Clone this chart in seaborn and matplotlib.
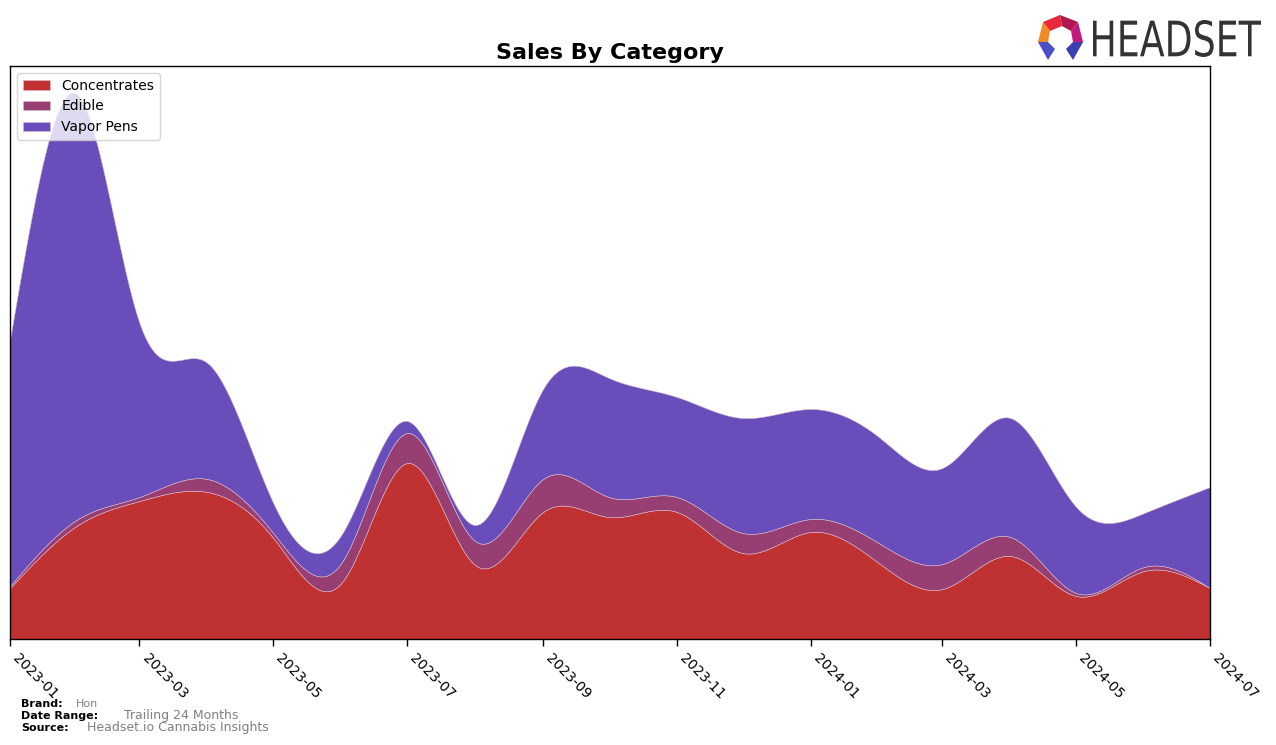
import numpy as np
import pandas as pd
import matplotlib
matplotlib.use("Agg")
import matplotlib.pyplot as plt
import matplotlib.dates as mdates
from matplotlib.patches import Polygon, PathPatch
from matplotlib.textpath import TextPath
from matplotlib.font_manager import FontProperties
from matplotlib.transforms import Affine2D, IdentityTransform
import seaborn as sns

# ---- data (arbitrary units) ----
months = ["2023-01", "2023-02", "2023-03", "2023-04", "2023-05", "2023-06",
          "2023-07", "2023-08", "2023-09", "2023-10", "2023-11", "2023-12",
          "2024-01", "2024-02", "2024-03", "2024-04", "2024-05", "2024-06",
          "2024-07"]
concentrates = [51, 114, 138, 147, 101, 56, 176, 74, 127, 122, 127, 86,
                107, 76, 50, 83, 43, 68, 51]
edible = [2, 6, 4, 13, 5, 20, 30, 24, 33, 20, 15, 20,
          13, 20, 25, 19, 3, 4, 0]
vapor_pens = [246, 424, 174, 116, 30, 28, 12, 16, 90, 119, 100, 115,
              110, 106, 96, 119, 86, 54, 101]
categories = ["Concentrates", "Edible", "Vapor Pens"]
colors = ["#C03232", "#973F73", "#694DBB"]
tick_labels = ["2023-01", "2023-03", "2023-05", "2023-07", "2023-09",
               "2023-11", "2024-01", "2024-03", "2024-05", "2024-07"]


def natural_spline(x, y, xs):
    x = np.asarray(x, float)
    y = np.asarray(y, float)
    n = len(x)
    h = np.diff(x)
    A = np.zeros((n, n))
    b = np.zeros(n)
    A[0, 0] = 1
    A[-1, -1] = 1
    for i in range(1, n - 1):
        A[i, i - 1] = h[i - 1]
        A[i, i] = 2 * (h[i - 1] + h[i])
        A[i, i + 1] = h[i]
        b[i] = 3 * ((y[i + 1] - y[i]) / h[i] - (y[i] - y[i - 1]) / h[i - 1])
    c = np.linalg.solve(A, b)
    out = np.empty_like(xs, dtype=float)
    idx = np.clip(np.searchsorted(x, xs) - 1, 0, n - 2)
    for k, xv in enumerate(xs):
        i = idx[k]
        bi = (y[i + 1] - y[i]) / h[i] - h[i] * (2 * c[i] + c[i + 1]) / 3
        di = (c[i + 1] - c[i]) / (3 * h[i])
        dx = xv - x[i]
        out[k] = y[i] + bi * dx + c[i] * dx ** 2 + di * dx ** 3
    return out


sns.set_style("white")
plt.rcParams["font.family"] = ["DejaVu Sans"]
plt.rcParams["text.color"] = "black"
plt.rcParams["xtick.color"] = "black"
plt.rcParams["axes.labelcolor"] = "black"

dates = pd.to_datetime([m + "-01" for m in months])
xnum = mdates.date2num(dates)
xs = np.linspace(xnum[0], xnum[-1], 600)

series = [concentrates, edible, vapor_pens]
smooth = [np.clip(natural_spline(xnum, s, xs), 0, None) for s in series]

fig = plt.figure(figsize=(12.76, 7.45), dpi=100)
ax = fig.add_axes([10 / 1276, 1 - 639 / 745, 1200 / 1276, 573 / 745])

ax.stackplot(mdates.num2date(xs), *smooth, labels=categories, colors=colors,
             edgecolor="#d9b9c9", linewidth=0.4)

ax.set_xlim(dates[0], dates[-1])
ax.set_ylim(0, 573)
ax.set_yticks([])
ax.set_xticks(pd.to_datetime([t + "-01" for t in tick_labels]))
ax.set_xticklabels(tick_labels, rotation=-45, ha="left", fontsize=10, color="black")
ax.tick_params(axis="x", length=5, width=1, color="black", bottom=True)
for sp in ax.spines.values():
    sp.set_visible(True)
    sp.set_color("black")
    sp.set_linewidth(1)

ax.set_title("Sales By Category", fontsize=16, fontweight="bold", pad=5, color="black")
leg = ax.legend(loc="upper left", fontsize=10, framealpha=0.8)
for t in leg.get_texts():
    t.set_color("black")

# footer
fig.text(21 / 1276, 1 - 704 / 745, "Brand:", fontsize=8, fontweight="bold", va="center")
fig.text(76 / 1276, 1 - 704 / 745, "Hon", fontsize=8, color="gray", va="center")
fig.text(21 / 1276, 1 - 716 / 745, "Date Range:", fontsize=8, fontweight="bold", va="center")
fig.text(124 / 1276, 1 - 716 / 745, "Trailing 24 Months", fontsize=9, color="gray", va="center")
fig.text(21 / 1276, 1 - 728 / 745, "Source:", fontsize=8, fontweight="bold", va="center")
fig.text(87 / 1276, 1 - 728 / 745, "Headset.io Cannabis Insights", fontsize=9, color="gray", va="center")

# logo
def P(x, y):
    return (x / 1276, 1 - y / 745)

logo_polys = [
    ([P(1043, 22), P(1060, 15), P(1062, 26), P(1050, 31)], "#E8283C"),
    ([P(1060, 15), P(1078, 22), P(1071, 31), P(1062, 26)], "#B0174E"),
    ([P(1078, 22), P(1083, 42), P(1073, 42), P(1071, 31)], "#C2187E"),
    ([P(1043, 22), P(1050, 31), P(1048, 42), P(1038, 42)], "#F08A24"),
    ([P(1038, 42), P(1048, 42), P(1055, 49), P(1048, 60)], "#4B4FC8"),
    ([P(1083, 42), P(1073, 42), P(1066, 49), P(1073, 60)], "#3B3FB0"),
]
for pts, c in logo_polys:
    fig.patches.append(Polygon(pts, closed=True, facecolor=c, edgecolor="none",
                               transform=fig.transFigure, figure=fig))

tp = TextPath((0, 0), "HEADSET", size=40, prop=FontProperties(family="DejaVu Sans"))
ext = tp.get_extents()
sx = 168 / ext.width
sy = 37 / ext.height
tr = Affine2D().translate(-ext.x0, -ext.y0).scale(sx, sy).translate(1093, 745 - 57)
logo_text = PathPatch(tr.transform_path(tp), facecolor="#333333", edgecolor="none",
                      transform=IdentityTransform(), figure=fig)
fig.patches.append(logo_text)

fig.savefig("out.png", dpi=100)
